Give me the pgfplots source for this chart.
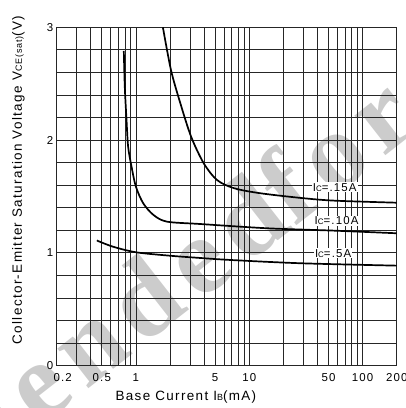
\documentclass[border=0pt]{standalone}
\usepackage{fontspec}
\setmainfont{Liberation Sans}[LetterSpace=10]
\newfontfamily\wmfont{Liberation Serif}[LetterSpace=10]
\usepackage{pgfplots}
\pgfplotsset{compat=1.18}

\begin{document}
\begin{tikzpicture}
% watermark
\tikzset{wm/.style={rotate=38, text=black!20, inner sep=0,
      font=\wmfont\bfseries\fontsize{110}{110}\selectfont}}
\node[wm, anchor=base west] (wf) at (238bp,138bp) {for};
\node[wm, anchor=base east] at (wf.base west) {Not Recommended\ };
\node[wm, anchor=base west] at (wf.base east) {\ New Design};

\begin{axis}[
  xmode=log, scale only axis,
  width=340bp, height=338.4bp,
  xmin=0.2, xmax=200, ymin=0, ymax=3,
  xtick={0.5,1,5,10,50,100,200},
  xticklabels={0.5,1,5,10,50,100,200},
  extra x ticks={0.2}, extra x tick labels={0.2},
  extra x tick style={xticklabel style={xshift=6bp}},
  minor xtick={0.3,0.4,0.6,0.7,0.8,0.9,2,3,4,6,7,8,9,20,30,40,60,70,80,90},
  ytick={0,1,2,3}, yticklabels={0,1,2,3},
  minor ytick={0.2,0.4,0.6,0.8,1.2,1.4,1.6,1.8,2.2,2.4,2.6,2.8},
  grid=both,
  major grid style={black!85, line width=0.8bp},
  minor grid style={black!85, line width=0.8bp},
  major tick length=0pt, minor tick length=0pt,
  axis line style={black!85, line width=0.8bp},
  tick label style={font=\fontsize{11.5}{12}\selectfont},
  xticklabel style={yshift=-4bp},
  xlabel={Base Current I{\fontsize{9}{9}\selectfont B}(mA)},
  xlabel style={at={(axis description cs:0.38,-0.104)}, anchor=base,
                font=\fontsize{13.5}{14}\selectfont},
  ylabel={Collector-Emitter Saturation Voltage V{\fontsize{9}{9}\selectfont CE(sat)}(V)},
  ylabel style={at={(axis description cs:-0.113,0.549)}, anchor=center,
                font=\fontsize{13.5}{14}\selectfont},
]
% Ic = .15A
\addplot[black, line width=1.7bp, smooth, tension=0.5] coordinates {
  (1.73,3.0) (2.04,2.62) (2.46,2.33) (3.07,2.03) (3.97,1.794) (5.2,1.646)
  (7.37,1.573) (12.7,1.528) (30,1.485) (57,1.463) (200,1.445)
};
% Ic = .10A
\addplot[black, line width=1.7bp, smooth, tension=0.5] coordinates {
  (0.782,2.79) (0.798,2.47) (0.826,2.18) (0.854,1.94) (0.915,1.764) (1.0,1.587)
  (1.16,1.44) (1.43,1.336) (1.88,1.277) (3.71,1.256) (14.6,1.218) (57,1.197) (200,1.174)
};
% Ic = .5A
\addplot[black, line width=1.7bp, smooth, tension=0.5] coordinates {
  (0.452,1.11) (0.628,1.055) (1.01,1.005) (2.0,0.975) (3.47,0.957)
  (6.9,0.937) (28.8,0.908) (200,0.887)
};
\node[fill=white, inner sep=1bp, font=\fontsize{11.5}{12}\selectfont]
  at (axis cs:56.8,1.58) {I{\fontsize{8}{8}\selectfont C}=.15A};
\node[fill=white, inner sep=1bp, font=\fontsize{11.5}{12}\selectfont]
  at (axis cs:59,1.285) {I{\fontsize{8}{8}\selectfont C}=.10A};
\node[fill=white, inner sep=1bp, font=\fontsize{11.5}{12}\selectfont]
  at (axis cs:55,0.997) {I{\fontsize{8}{8}\selectfont C}=.5A};
\end{axis}
\pgfresetboundingbox
\useasboundingbox (-56.7bp,-42.3bp) rectangle (349.3bp,365.7bp);
\end{tikzpicture}
\end{document}
